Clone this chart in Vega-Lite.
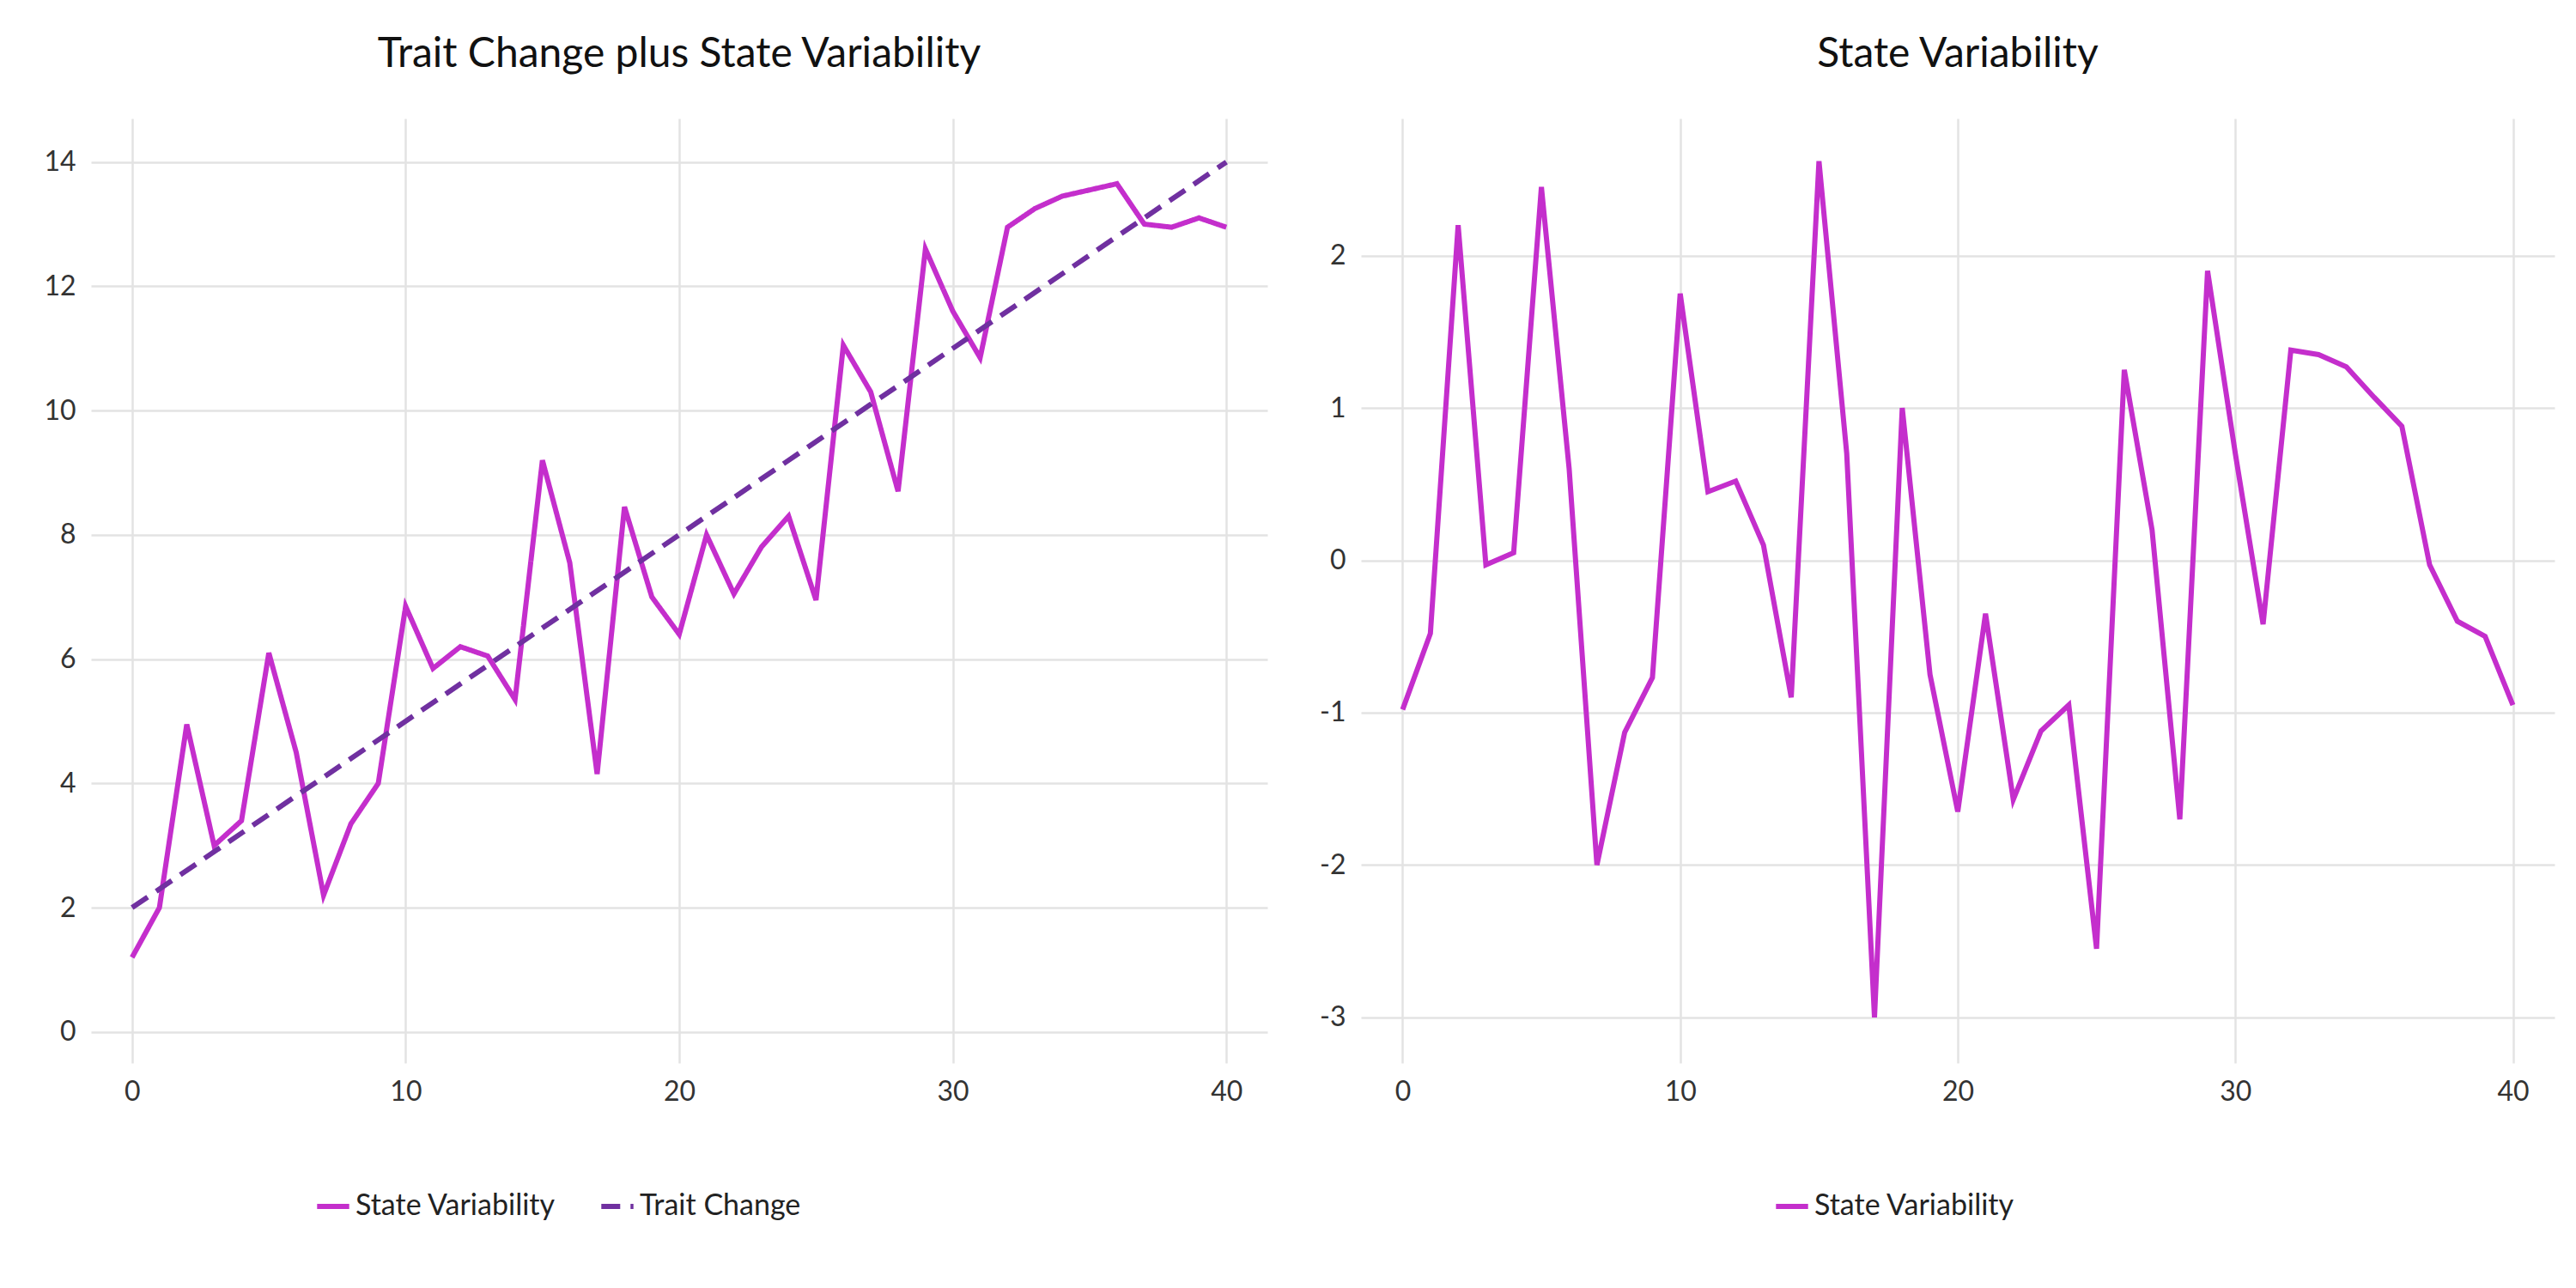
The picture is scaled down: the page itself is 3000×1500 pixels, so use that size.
{
"$schema":"https://vega.github.io/schema/vega-lite/v6.json",
"background":"white",
"padding":{"left":50,"top":40,"right":20,"bottom":20},
"datasets":{
"left":[
{"x":0,"y":1.2},{"x":1,"y":2.0},{"x":2,"y":4.95},{"x":3,"y":3.0},{"x":4,"y":3.4},{"x":5,"y":6.1},{"x":6,"y":4.5},{"x":7,"y":2.2},{"x":8,"y":3.35},{"x":9,"y":4.0},{"x":10,"y":6.85},{"x":11,"y":5.85},{"x":12,"y":6.2},{"x":13,"y":6.05},{"x":14,"y":5.35},{"x":15,"y":9.2},{"x":16,"y":7.55},{"x":17,"y":4.15},{"x":18,"y":8.45},{"x":19,"y":7.0},{"x":20,"y":6.4},{"x":21,"y":8.0},{"x":22,"y":7.05},{"x":23,"y":7.8},{"x":24,"y":8.3},{"x":25,"y":6.95},{"x":26,"y":11.05},{"x":27,"y":10.3},{"x":28,"y":8.7},{"x":29,"y":12.6},{"x":30,"y":11.6},{"x":31,"y":10.85},{"x":32,"y":12.95},{"x":33,"y":13.25},{"x":34,"y":13.45},{"x":35,"y":13.55},{"x":36,"y":13.65},{"x":37,"y":13.0},{"x":38,"y":12.95},{"x":39,"y":13.1},{"x":40,"y":12.95}],
"trait":[{"x":0,"y":2},{"x":40,"y":14}],
"right":[
{"x":0,"y":-0.98},{"x":1,"y":-0.48},{"x":2,"y":2.2},{"x":3,"y":-0.03},{"x":4,"y":0.05},{"x":5,"y":2.45},{"x":6,"y":0.6},{"x":7,"y":-2.0},{"x":8,"y":-1.13},{"x":9,"y":-0.77},{"x":10,"y":1.75},{"x":11,"y":0.45},{"x":12,"y":0.52},{"x":13,"y":0.1},{"x":14,"y":-0.9},{"x":15,"y":2.62},{"x":16,"y":0.7},{"x":17,"y":-3.0},{"x":18,"y":1.0},{"x":19,"y":-0.75},{"x":20,"y":-1.65},{"x":21,"y":-0.35},{"x":22,"y":-1.57},{"x":23,"y":-1.12},{"x":24,"y":-0.95},{"x":25,"y":-2.55},{"x":26,"y":1.25},{"x":27,"y":0.2},{"x":28,"y":-1.7},{"x":29,"y":1.9},{"x":30,"y":0.7},{"x":31,"y":-0.42},{"x":32,"y":1.38},{"x":33,"y":1.35},{"x":34,"y":1.27},{"x":35,"y":1.07},{"x":36,"y":0.88},{"x":37,"y":-0.03},{"x":38,"y":-0.4},{"x":39,"y":-0.5},{"x":40,"y":-0.95}]
},
"hconcat":[
{"title":"Trait Change plus State Variability","width":1370,"height":1100,
"layer":[
{"data":{"name":"left"},"transform":[{"calculate":"'State Variability'","as":"s"}],"mark":{"type":"line","strokeWidth":6},
"encoding":{"x":{"field":"x","type":"quantitative","scale":{"domain":[-1.5,41.5],"nice":false},"axis":{"values":[0,10,20,30,40]},"title":null},
"y":{"field":"y","type":"quantitative","scale":{"domain":[-0.5,14.7],"nice":false,"zero":false},"axis":{"values":[0,2,4,6,8,10,12,14],"format":"d"},"title":null},
"color":{"field":"s","type":"nominal","scale":{"domain":["State Variability","Trait Change"],"range":["#C42ECC","#7030A0"]},"legend":{"title":null,"orient":"none","legendX":260,"legendY":1245}},
"strokeDash":{"field":"s","type":"nominal","scale":{"domain":["State Variability","Trait Change"],"range":[[1,0],[22,12]]},"legend":{"title":null,"orient":"none","legendX":260,"legendY":1245}}}},
{"data":{"name":"trait"},"transform":[{"calculate":"'Trait Change'","as":"s"}],"mark":{"type":"line","strokeWidth":6},
"encoding":{"x":{"field":"x","type":"quantitative"},"y":{"field":"y","type":"quantitative"},
"color":{"field":"s","type":"nominal"},"strokeDash":{"field":"s","type":"nominal"}}}
]},
{"title":"State Variability","width":1390,"height":1100,
"data":{"name":"right"},"transform":[{"calculate":"'State Variability'","as":"s"}],"mark":{"type":"line","strokeWidth":6},
"encoding":{"x":{"field":"x","type":"quantitative","scale":{"domain":[-1.5,41.5],"nice":false},"axis":{"values":[0,10,20,30,40]},"title":null},
"y":{"field":"y","type":"quantitative","scale":{"domain":[-3.3,2.9],"nice":false,"zero":false},"axis":{"values":[-3,-2,-1,0,1,2],"labelExpr":"replace(format(datum.value,'d'),'−','-')"},"title":null},
"color":{"field":"s","type":"nominal","scale":{"domain":["State Variability"],"range":["#C42ECC"]},"legend":{"title":null,"orient":"none","legendX":480,"legendY":1245}}}}
],
"spacing":60,
"resolve":{"scale":{"color":"independent","strokeDash":"independent","x":"independent","y":"independent"}},
"config":{"font":"Lato","view":{"stroke":null},
"title":{"fontSize":48,"fontWeight":"normal","color":"#111","offset":50},
"axis":{"domain":false,"ticks":false,"gridColor":"#e3e3e3","gridWidth":2.5,"labelFontSize":32,"labelColor":"#333","labelPadding":18},
"legend":{"direction":"horizontal","labelFontSize":34,"labelColor":"#222","labelLimit":0,"symbolType":"stroke","symbolStrokeWidth":6,"symbolSize":1400,"columnPadding":40}}
}
